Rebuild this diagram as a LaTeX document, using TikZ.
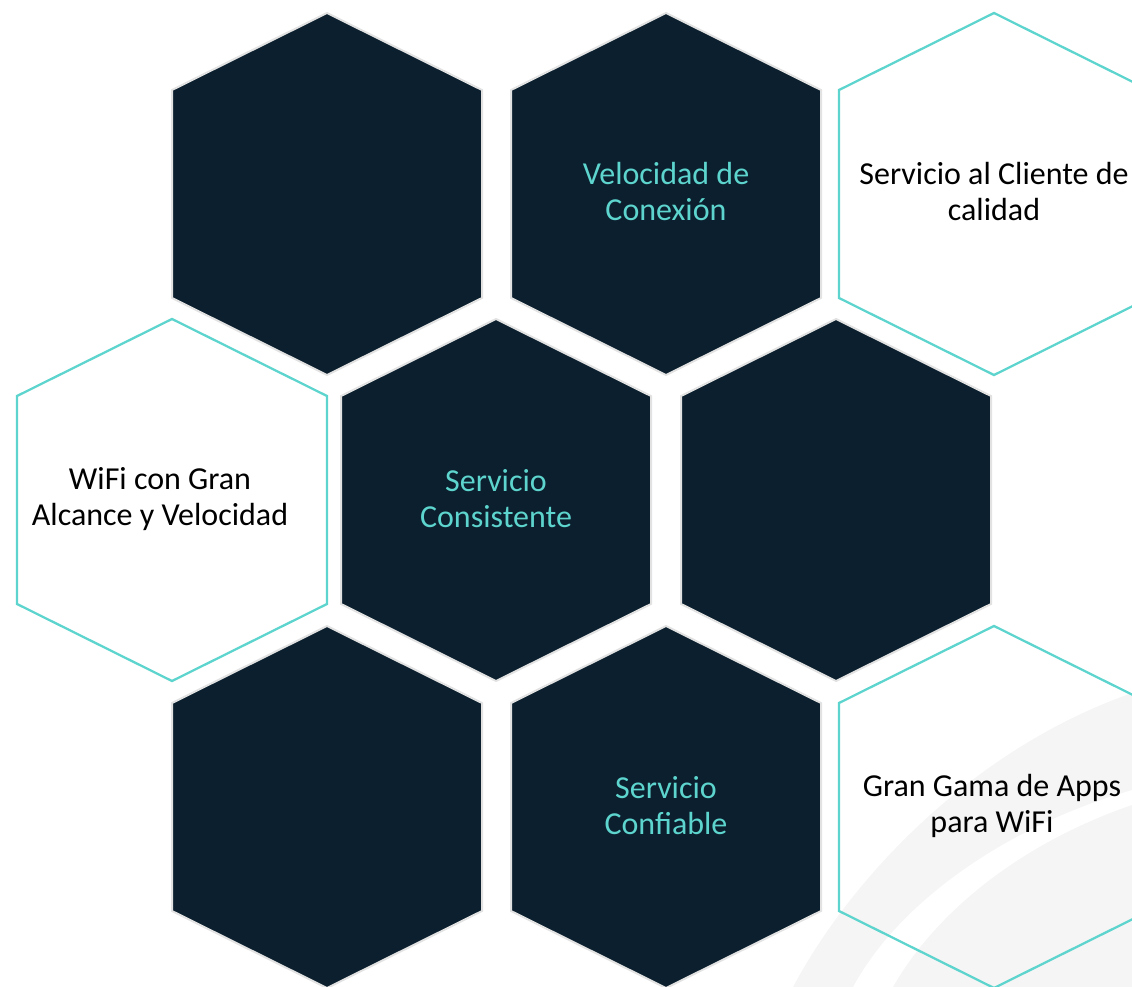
\documentclass[tikz,border=0pt]{standalone}
\usepackage{fontspec}
\setmainfont{Carlito}
\definecolor{hexnavy}{HTML}{0B1F2E}
\definecolor{hexteal}{HTML}{5DD4CD}
\definecolor{hexrim}{HTML}{E2E2E2}
\definecolor{swoosh}{HTML}{F5F5F5}
\begin{document}
\begin{tikzpicture}[x=0.75pt,y=-0.75pt,
    hexdark/.style={fill=hexnavy,draw=hexrim,line width=1.5pt},
    hexlight/.style={draw=hexteal,line width=1.7pt},
    darktext/.style={text=hexteal,align=center,font=\fontsize{24}{27}\selectfont},
    lighttext/.style={text=black,align=center,font=\fontsize{24}{27}\selectfont}]
                \clip (0,0) rectangle (1132,987);
                % faint background swoosh
                \fill[swoosh] (793,987) .. controls (850,880) and (970,750) .. (1132,693) -- (1132,790) .. controls (1010,825) and (900,900) .. (853,987) -- cycle;
                \fill[swoosh] (893,987) .. controls (940,905) and (1030,840) .. (1132,805) -- (1132,987) -- cycle;
                % hexagons
                \foreach \cx/\cy/\sty in {327/194/hexdark,666/194/hexdark,994/194/hexlight,
                                          172/500/hexlight,496/500/hexdark,836/500/hexdark,
                                          327/807/hexdark,666/807/hexdark,994/807/hexlight}
                    \draw[\sty] (\cx,\cy) +(0,-181) -- +(155,-104) -- +(155,104) -- +(0,181) -- +(-155,104) -- +(-155,-104) -- cycle;
                % labels
                \node[darktext] (vel) at (666,192) {Velocidad de\\Conexión};
                \node[lighttext] (cli) at (994,192) {Servicio al Cliente de\\calidad};
                \node[lighttext] (wifi) at (160,499) {WiFi con Gran\\Alcance y Velocidad};
                \node[darktext] (cons) at (496,499) {Servicio\\Consistente};
                \node[darktext] (conf) at (666,806) {Servicio\\Confiable};
                \node[lighttext] (apps) at (992,806) {Gran Gama de Apps\\para WiFi};
            \end{tikzpicture}
\end{document}
